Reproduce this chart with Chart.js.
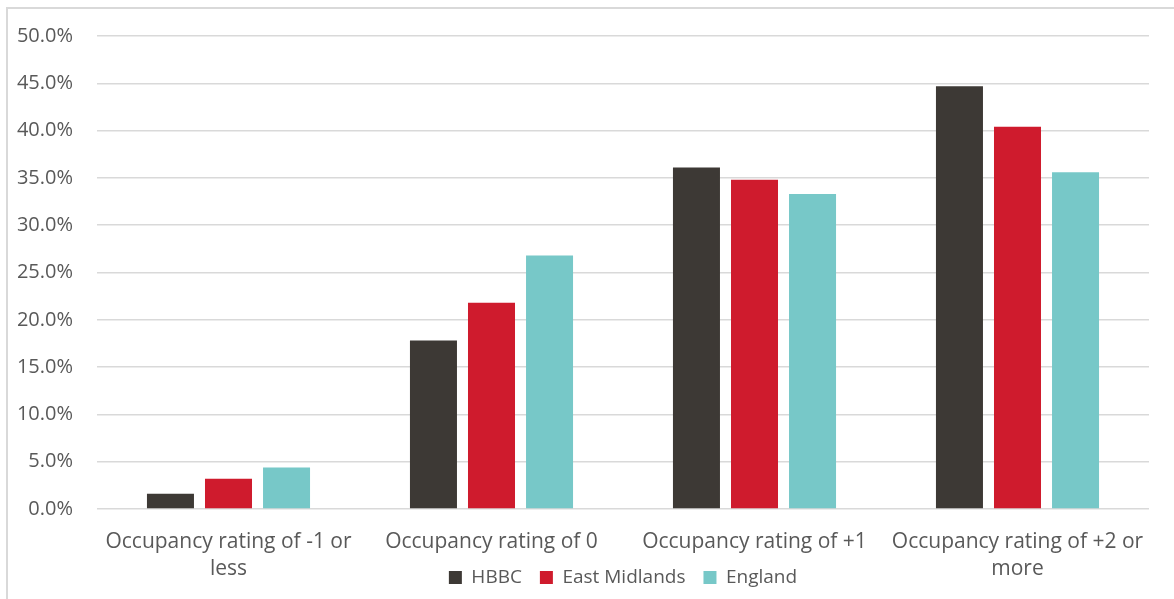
<!DOCTYPE html>
<html lang="en">
<head>
  <meta charset="UTF-8">
  <title>Occupancy Rating</title>
  <script src="https://cdn.jsdelivr.net/npm/chart.js"></script>
  <style>
    html, body { margin: 0; padding: 0; background: #fff; overflow: hidden; }
    .frame {
      position: absolute; left: 6px; top: 7px; width: 1200px; height: 640px;
      border: 2px solid #d9d9d9; box-sizing: border-box;
    }
    .wrap { position: absolute; left: 0; top: 0; width: 1174px; height: 599px; }
  </style>
</head>
<body>
<div class="frame"></div>
<div class="wrap">
  <canvas id="occChart"></canvas>
</div>

<script>
  // categories (multi-line where Excel wrapped them)
  const categories = [
    ['Occupancy rating of -1 or', 'less'],
    'Occupancy rating of 0',
    'Occupancy rating of +1',
    ['Occupancy rating of +2 or', 'more']
  ];
  const seriesNames = ['HBBC', 'East Midlands', 'England'];
  const hbbc = [1.6, 17.8, 36.1, 44.7];
  const eastMidlands = [3.2, 21.8, 34.8, 40.4];
  const england = [4.4, 26.8, 33.3, 35.6];
  const yTicks = [0, 5, 10, 15, 20, 25, 30, 35, 40, 45, 50];

  const colours = ['#3d3935', '#cf1b2d', '#77c8c8'];
  const textColour = '#595959';
  const gridColour = '#d9d9d9';

  Chart.defaults.font.family = '"Open Sans", sans-serif';
  Chart.defaults.color = textColour;

  // the x labels overlap the legend row in the original, so let the
  // label area run to the bottom of the canvas instead of clipping
  const unclipLabels = {
    id: 'unclipLabels',
    afterLayout(chart) {
      chart.scales.x.bottom = chart.height;
    }
  };

  new Chart(document.getElementById('occChart'), {
    type: 'bar',
    data: {
      labels: categories,
      datasets: [hbbc, eastMidlands, england].map((vals, i) => ({
        label: seriesNames[i],
        data: vals,
        backgroundColor: colours[i],
        borderWidth: 0,
        categoryPercentage: 0.662,
        barPercentage: 0.81
      }))
    },
    plugins: [unclipLabels],
    options: {
      responsive: true,
      maintainAspectRatio: false,
      animation: false,
      layout: { padding: { top: 31, right: 25, bottom: 2, left: 0 } },
      plugins: {
        tooltip: { enabled: false },
        legend: {
          position: 'bottom',
          fullSize: false,
          labels: {
            boxWidth: 13,
            boxHeight: 13,
            padding: 18,
            color: textColour,
            font: { size: 19 }
          }
        }
      },
      scales: {
        x: {
          grid: { display: false, drawTicks: false },
          border: { display: false },
          ticks: {
            color: textColour,
            font: { size: 21, lineHeight: 1.3 },
            maxRotation: 0,
            autoSkip: false,
            padding: 19
          },
          afterFit: s => { s.height = 41; }
        },
        y: {
          min: 0,
          max: 50,
          afterBuildTicks: s => { s.ticks = yTicks.map(v => ({ value: v })); },
          grid: { color: gridColour, lineWidth: 1.5, drawTicks: false },
          border: { display: false },
          ticks: {
            color: textColour,
            font: { size: 20 },
            padding: 24,
            callback: v => v.toFixed(1) + '%'
          },
          afterFit: s => { s.width = 97; }
        }
      }
    }
  });
</script>
</body>
</html>
